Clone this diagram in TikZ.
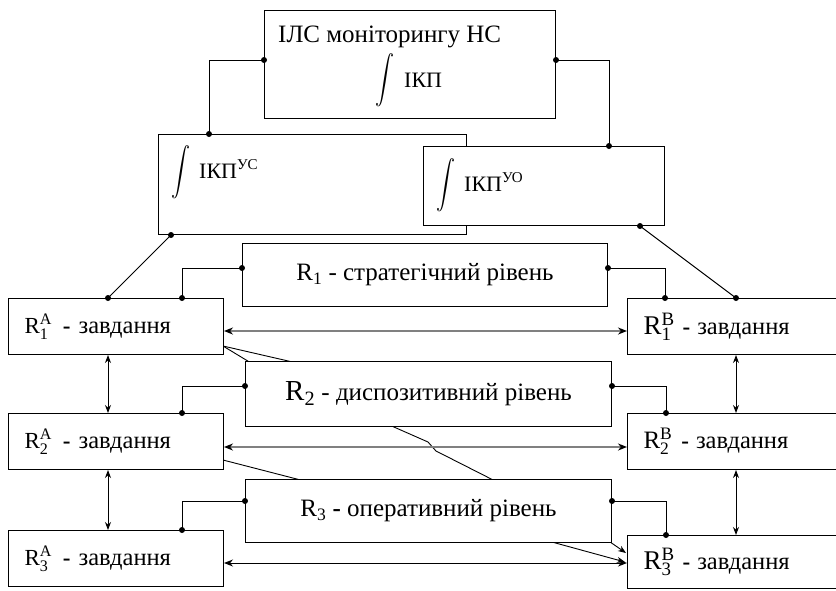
\documentclass[tikz,border=0pt]{standalone}
\usepackage{fontspec}
\usepackage{graphicx}
\setmainfont{Liberation Serif}
\usetikzlibrary{arrows.meta,calc}
\newcommand{\fs}[1]{\fontsize{#1}{#1}\selectfont}
\newcommand{\bigint}{\scalebox{1.9}[2.4]{$\displaystyle\int$}}
\newcommand{\zavd}{{\fs{24.5}завдання}}
\begin{document}
\begin{tikzpicture}[x=1pt,y=-1pt,
 box/.style={draw, fill=white, line width=1pt, inner sep=0pt, anchor=north west},
 taskbox/.style={box, minimum width=215pt, minimum height=56pt, text width=183pt, align=left, font=\normalfont\fs{23}},
 levelbox/.style={box, minimum width=366pt, minimum height=64pt, align=center, font=\fs{25}},
 txt/.style={inner sep=0pt},
 dot/.style={circle, fill=black, inner sep=0pt, minimum size=6pt},
 wire/.style={line width=1pt},
 harrow/.style={line width=1.8pt, draw=black!50, {Stealth[length=9pt,width=7pt,black]}-{Stealth[length=9pt,width=7pt,black]}},
 varrow/.style={line width=1pt, {Stealth[length=8pt,width=6pt]}-{Stealth[length=8pt,width=6pt]}},
 sarrow/.style={line width=0.9pt, -{Stealth[length=8pt,width=6pt]}},
]
\useasboundingbox (0,0) rectangle (836,590);
\clip (0,0) rectangle (836,590);

% diagonal lines that pass behind the level boxes (drawn first)
\coordinate (g1) at (223,346);
\coordinate (g1a) at (256,366);
\coordinate (g1b) at (310,366);
\coordinate (g2s) at (378,420);
\coordinate (g2m) at (428,442);
\coordinate (g2n) at (436,451);
\coordinate (g2e) at (505,486);
\coordinate (g3s) at (223,460);
\coordinate (g3e) at (320,485);
\coordinate (g4s) at (530,536);
\coordinate (g4e) at (625,562);
\coordinate (g5s) at (600,535);
\coordinate (g5e) at (626,553);
\draw[line width=0.9pt] (g1) -- (g1a);
\draw[line width=0.9pt] (g1) -- (g1b);
\draw[line width=0.9pt] (g2s) -- (g2m) -- (g2n) -- (g2e);
\draw[line width=0.9pt] (g3s) -- (g3e);
\draw[sarrow] (g4s) -- (g4e);
\draw[sarrow] (g5s) -- (g5e);

% top-level boxes
\node[box, minimum width=291pt, minimum height=108pt] (top) at (264,10) {};
\node[box, minimum width=308pt, minimum height=100pt] (us) at (158,134) {};
\node[box, minimum width=241pt, minimum height=79pt] (uo) at (423,146) {};

\node[txt, anchor=base west, font=\fs{25}] (tTop) at (278,42) {ІЛС моніторингу НС};
\node[txt] (iTop) at (385,80) {\bigint};
\node[txt, anchor=base west, font=\fs{22}] (tIKP) at (404,87) {ІКП};
\node[txt] (iUS) at (181,172) {\bigint};
\node[txt, anchor=base west, font=\fs{22}] (tUS) at (199,178) {ІКП{\fs{15}\raisebox{9pt}{УС}}};
\node[txt] (iUO) at (446,185) {\bigint};
\node[txt, anchor=base west, font=\fs{22}] (tUO) at (464,191) {ІКП{\fs{15}\raisebox{9pt}{УО}}};

% level boxes
\node[levelbox, minimum height=63pt, minimum width=365pt] (R1) at (242,243) {R\textsubscript{1} - стратегічний рівень};
\node[levelbox, minimum height=65pt] (R2) at (245,361) {{\fs{29}R\textsubscript{2}} - диспозитивний рівень};
\node[levelbox, minimum height=63pt] (R3) at (245,479) {R\textsubscript{3} \textbf{-} оперативний рівень};

% task boxes
\node[taskbox] (R1A) at (8,298) {$\mathrm{R}^{\mathrm{A}}_{\mathrm{1}}$\hspace{11pt}\textbf{-}\hspace{8pt}\zavd};
\node[taskbox] (R2A) at (8,413) {$\mathrm{R}^{\mathrm{A}}_{\mathrm{2}}$\hspace{11pt}\textbf{-}\hspace{8pt}\zavd};
\node[taskbox] (R3A) at (8,530) {$\mathrm{R}^{\mathrm{A}}_{\mathrm{3}}$\hspace{11pt}\textbf{-}\hspace{8pt}\zavd};
\node[taskbox] (R1B) at (627,298) {{\fs{27}$\mathrm{R}^{\mathrm{B}}_{\mathrm{1}}$}\hspace{8pt}\textbf{-}\hspace{7pt}\zavd};
\node[taskbox] (R2B) at (627,413) {{\fs{25}$\mathrm{R}^{\mathrm{B}}_{\mathrm{2}}$}\hspace{9pt}\textbf{-}\hspace{7pt}\zavd};
\node[taskbox, minimum height=53pt] (R3B) at (627,535) {{\fs{27}$\mathrm{R}^{\mathrm{B}}_{\mathrm{3}}$}\hspace{8pt}\textbf{-}\hspace{7pt}\zavd};

% wires between top boxes
\coordinate (pTopL) at ($(top.north west)+(0,50)$);
\coordinate (pTopR) at ($(top.north east)+(0,50)$);
\coordinate (pUSt) at ($(us.north west)+(51,0)$);
\coordinate (pUOt) at ($(uo.north west)+(186,0)$);
\coordinate (pUSb) at ($(us.south west)+(13,0)$);
\coordinate (pUOb) at ($(uo.south west)+(217,0)$);
\coordinate (pR1At) at ($(R1A.north west)+(100,0)$);
\coordinate (pR1Bt) at ($(R1B.north west)+(109,0)$);
\draw[wire] (pTopL) -| (pUSt);
\draw[wire] (pTopR) -| (pUOt);
\draw[wire] (pUSb) -- (pR1At);
\draw[wire] (pUOb) -- (pR1Bt);

% level wires
\coordinate (q1L) at ($(R1.north west)+(0,25)$);
\coordinate (q1R) at ($(R1.north east)+(0,25)$);
\coordinate (q2L) at ($(R2.north west)+(0,25)$);
\coordinate (q2R) at ($(R2.north east)+(0,25)$);
\coordinate (q3L) at ($(R3.north west)+(0,22)$);
\coordinate (q3R) at ($(R3.north east)+(0,22)$);
\coordinate (a1) at ($(R1A.north west)+(174,0)$);
\coordinate (a2) at ($(R2A.north west)+(174,0)$);
\coordinate (a3) at ($(R3A.north west)+(174,0)$);
\coordinate (b1) at ($(R1B.north west)+(38,0)$);
\coordinate (b2) at ($(R2B.north west)+(39,0)$);
\coordinate (b3) at ($(R3B.north west)+(39,0)$);
\draw[wire] (q1L) -| (a1);
\draw[wire] (q1R) -| (b1);
\draw[wire] (q2L) -| (a2);
\draw[wire] (q2R) -| (b2);
\draw[wire] (q3L) -| (a3);
\draw[wire] (q3R) -| (b3);

\foreach \p in {pTopL,pTopR,pUSt,pUOt,pUSb,pUOb,pR1At,pR1Bt,q1L,q1R,q2L,q2R,q3L,q3R,a1,a2,a3,b1,b2,b3}
  \node[dot] at (\p) {};

% horizontal arrows
\draw[harrow] ($(R1A.north east)+(0,33)$) -- ($(R1B.north west)+(0,33)$);
\draw[harrow] ($(R2A.north east)+(0,34)$) -- ($(R2B.north west)+(0,34)$);
\draw[line width=1pt, {Stealth[length=9pt,width=7pt]}-{Stealth[length=9pt,width=7pt]}] ($(R3A.north east)+(0,33)$) -- ($(R3B.north west)+(0,28)$);

% vertical arrows
\draw[varrow] ($(R1A.south west)+(100,0)$) -- ($(R2A.north west)+(100,0)$);
\draw[varrow] ($(R2A.south west)+(100,0)$) -- ($(R3A.north west)+(100,0)$);
\draw[varrow] ($(R1B.south west)+(109,0)$) -- ($(R2B.north west)+(109,0)$);
\draw[varrow] ($(R2B.south west)+(109,0)$) -- ($(R3B.north west)+(109,0)$);
\end{tikzpicture}
\end{document}
